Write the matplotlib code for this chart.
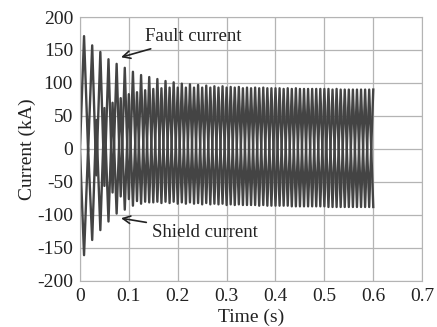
import matplotlib
matplotlib.use('Agg')
import matplotlib.pyplot as plt
import numpy as np

plt.rcParams['font.family'] = ['Liberation Serif', 'DejaVu Serif']
plt.rcParams['axes.unicode_minus'] = False

# Grid frequency and number of cycles shown (0 .. 0.6 s)
FREQ = 60
N_CYCLES = 36

# Fault current: positive peaks (mid-cycle) and troughs (end of each cycle), kA
fault_peaks = [171, 157, 147, 136, 129, 123, 117, 112, 109, 106, 103, 101,
               99, 98, 97, 96, 95, 95, 94, 94, 93, 93, 93, 92,
               92, 92, 92, 91, 91, 91, 91, 91, 90, 90, 90, 90]
fault_troughs = [-4, -40, -56, -66, -72, -76, -79, -80, -81, -82, -82, -83,
                 -83, -83, -84, -84, -84, -85, -85, -85, -85, -86, -86, -86,
                 -86, -87, -87, -87, -87, -87, -88, -88, -88, -88, -88, -88]

# Shield current: troughs (mid-cycle) and peaks (end of each cycle), kA
shield_troughs = [-161, -138, -123, -110, -98, -92, -86, -83, -81, -80, -80, -80,
                  -81, -81, -82, -82, -83, -83, -84, -84, -85, -85, -85, -86,
                  -86, -86, -87, -87, -87, -87, -88, -88, -88, -88, -88, -88]
shield_peaks = [2, 44, 62, 70, 77, 83, 86, 89, 91, 92, 93, 93,
                93, 93, 93, 93, 93, 93, 93, 92, 92, 92, 92, 92,
                91, 91, 91, 91, 91, 91, 90, 90, 90, 90, 90, 90]

x_ticks = [0, 0.1, 0.2, 0.3, 0.4, 0.5, 0.6, 0.7]
y_ticks = [-200, -150, -100, -50, 0, 50, 100, 150, 200]


def waveform(mid_vals, end_vals):
    """Join the extremes of each cycle into one trace starting at 0 A."""
    t = [0.0]
    y = [0.0]
    for k in range(N_CYCLES):
        t += [(k + 0.5) / FREQ, (k + 1) / FREQ]
        y += [mid_vals[k], end_vals[k]]
    return np.array(t), np.array(y)


fig = plt.figure(figsize=(4.37, 3.27), dpi=100)
ax = fig.add_axes([0.183, 0.141, 0.783, 0.807])

t_f, i_f = waveform(fault_peaks, fault_troughs)
t_s, i_s = waveform(shield_troughs, shield_peaks)
ax.plot(t_f, i_f, color='#444444', lw=1.7)
ax.plot(t_s, i_s, color='#444444', lw=1.7)

ax.set_xlim(0, 0.7)
ax.set_ylim(-200, 200)
ax.set_xticks(x_ticks)
ax.set_xticklabels(['0', '0.1', '0.2', '0.3', '0.4', '0.5', '0.6', '0.7'])
ax.set_yticks(y_ticks)
ax.tick_params(length=0, labelsize=14, pad=5, colors='#222222')
ax.grid(True, color='#b4b4b4', lw=0.9)
ax.set_axisbelow(True)
for s in ax.spines.values():
    s.set_color('#b4b4b4')

ax.set_xlabel('Time (s)', fontsize=14, labelpad=3, color='#222222')
ax.set_ylabel('Current (kA)', fontsize=14, labelpad=1, color='#222222')

ax.annotate('Fault current', xy=(0.084, 139), xytext=(0.133, 170),
            fontsize=13.5, va='center', color='#222222',
            arrowprops=dict(arrowstyle='->', color='#222222', lw=1.2,
                            shrinkA=2, shrinkB=0))
ax.annotate('Shield current', xy=(0.084, -105), xytext=(0.147, -126),
            fontsize=13.5, va='center', color='#222222',
            arrowprops=dict(arrowstyle='->', color='#222222', lw=1.2,
                            shrinkA=2, shrinkB=0))

fig.savefig('out.png', dpi=100)
